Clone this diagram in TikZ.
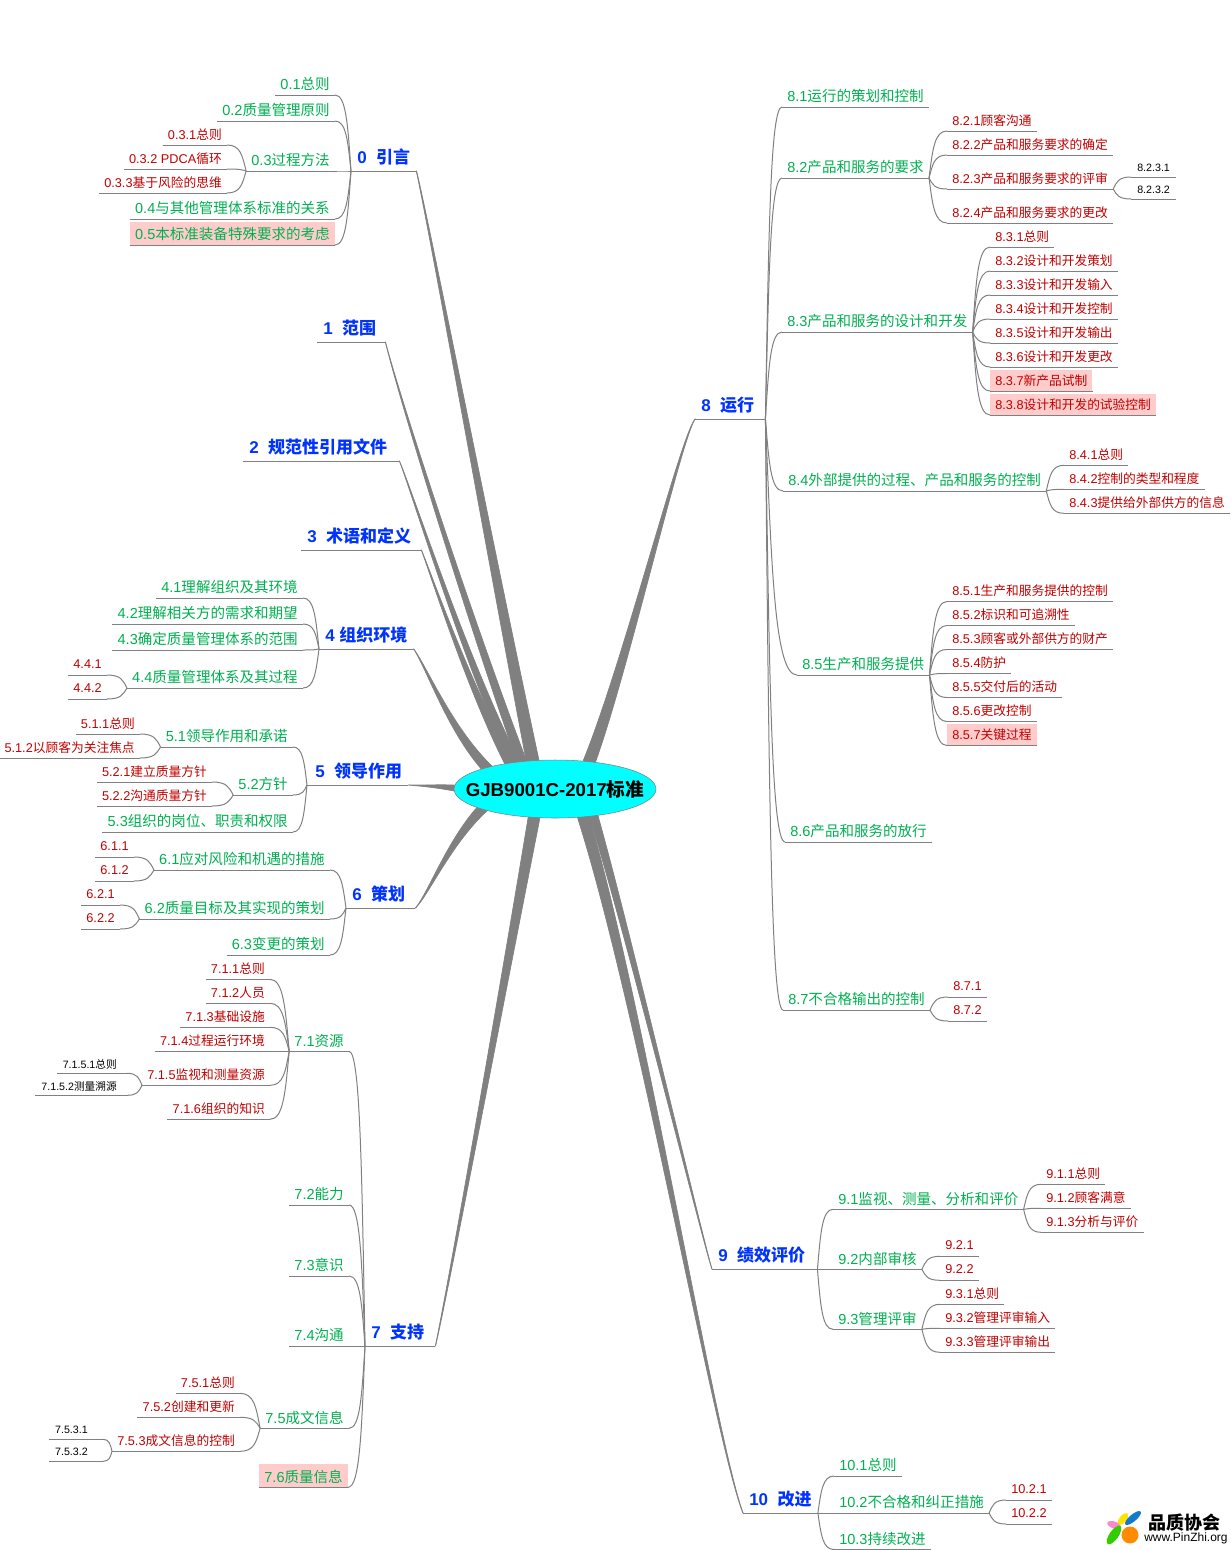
\documentclass[tikz,border=0pt]{standalone}
\usepackage{fontspec}
\setmainfont{Liberation Sans}
\newfontfamily\cjk{Noto Sans CJK SC}
\usetikzlibrary{shapes.geometric, calc, backgrounds}
\definecolor{secgreen}{HTML}{00B050}
\definecolor{subred}{HTML}{C00000}
\definecolor{topicblue}{HTML}{0033FF}
\definecolor{hotpink}{HTML}{FFCCCC}
\definecolor{linegray}{HTML}{808080}
\definecolor{rootcyan}{HTML}{00FFFF}
\newcommand{\zh}[1]{{\cjk #1}}
\newcommand{\limb}[5]{\path[trunk] ($(#1)+0.03*(#5)$) .. controls ($(#2)+0.12*(#5)$) and ($(#3)+0.6*(#5)$) .. ($(root.center)!0.92!(root.#4)+(#5)$) -- ($(root.center)!0.92!(root.#4)-(#5)$) .. controls ($(#3)-0.6*(#5)$) and ($(#2)-0.12*(#5)$) .. ($(#1)-0.03*(#5)$) -- cycle;}
\tikzset{
  ruled/.style={append after command={(\tikzlastnode.south west) edge[draw=linegray, line width=0.75pt] (\tikzlastnode.south east)}},
  toleft/.style={anchor=south east},
  toright/.style={anchor=south west},
  topicnode/.style={ruled, inner ysep=0pt, inner xsep=4.5pt, minimum height=19.5pt, text height=10pt, text depth=1.8pt, text=topicblue, font=\fontsize{12.75}{14}\selectfont\bfseries},
  secnode/.style={ruled, inner ysep=0pt, inner xsep=3.75pt, minimum height=17.25pt, text height=10.5pt, text depth=0.6pt, text=secgreen, font=\fontsize{10.9}{13}\selectfont},
  subnode/.style={ruled, inner ysep=0pt, inner xsep=3.75pt, minimum height=15.75pt, text=subred, font=\fontsize{9.55}{11}\selectfont},
  tinynode/.style={ruled, inner ysep=0pt, inner xsep=4.5pt, minimum height=13.5pt, text=black, font=\fontsize{8}{9}\selectfont},
  hot/.style={fill=hotpink},
  rootnode/.style={ellipse, draw=linegray, fill=rootcyan, minimum width=151.5pt, minimum height=43.5pt, inner xsep=-13.5pt, inner ysep=0pt, font=\fontsize{14}{16}\selectfont\bfseries},
  twig/.style={draw=linegray, line width=0.75pt, to path={let \p1=(\tikztostart), \p2=(\tikztotarget) in .. controls ({\x1+0.7*(\x2-\x1)},\y1) and ({\x1+0.8*(\x2-\x1)},{\y1+0.4*(\y2-\y1)}) .. (\tikztotarget)}},
  trunk/.style={fill=linegray, draw=linegray, line width=0.5pt},
  logotext/.style={inner sep=0pt, text=black},
}
\begin{document}
\begin{tikzpicture}[x=0.75pt, y=-0.75pt]
  \useasboundingbox (0,0) rectangle (1231,1550);

  \node[rootnode] (root) at (555,789) {GJB9001C-2017\zh{标准}};

  %% 0 left
  \node[topicnode, toright] (n0) at (351,171) {0\ \ \zh{引言}};
  \node[secnode, toleft] (n01) at (335,95) {0.1\zh{总则}};
  \node[secnode, toleft] (n02) at (335,121) {0.2\zh{质量管理原则}};
  \node[secnode, toleft] (n03) at (335,171) {0.3\zh{过程方法}};
  \node[secnode, toleft] (n04) at (335,219) {0.4\zh{与其他管理体系标准的关系}};
  \node[secnode, toleft, hot] (n05) at (335,245) {0.5\zh{本标准装备特殊要求的考虑}};
  \node[subnode, toleft] (n031) at (227,145) {0.3.1\zh{总则}};
  \node[subnode, toleft] (n032) at (227,169) {0.3.2 PDCA\zh{循环}};
  \node[subnode, toleft] (n033) at (227,193) {0.3.3\zh{基于风险的思维}};

  \draw[twig] (n01.south east) to (n0.south west);
  \draw[twig] (n02.south east) to (n0.south west);
  \draw[twig] (n03.south east) to (n0.south west);
  \draw[twig] (n04.south east) to (n0.south west);
  \draw[twig] (n05.south east) to (n0.south west);
  \draw[twig] (n031.south east) to (n03.south west);
  \draw[twig] (n032.south east) to (n03.south west);
  \draw[twig] (n033.south east) to (n03.south west);

  %% 1 to 3 have no children
  \node[topicnode, toright] (n1) at (317,342) {1\ \ \zh{范围}\kern2.25pt};
  \node[topicnode, toright] (n2) at (243,461) {2\ \ \zh{规范性引用文件}\kern4.5pt};
  \node[topicnode, toright] (n3) at (301,550) {3\ \ \zh{术语和定义}\kern3pt};

  %% 4 left
  \node[topicnode, toright] (n4) at (319,649) {4 \zh{组织环境}};
  \node[secnode, toleft] (n41) at (303,598) {4.1\zh{理解组织及其环境}};
  \node[secnode, toleft] (n42) at (303,624) {4.2\zh{理解相关方的需求和期望}};
  \node[secnode, toleft] (n43) at (303,650) {4.3\zh{确定质量管理体系的范围}};
  \node[secnode, toleft] (n44) at (303,688) {4.4\zh{质量管理体系及其过程}};
  \node[subnode, toleft] (n441) at (107,675) {4.4.1};
  \node[subnode, toleft] (n442) at (107,699) {4.4.2};

  \draw[twig] (n41.south east) to (n4.south west);
  \draw[twig] (n42.south east) to (n4.south west);
  \draw[twig] (n43.south east) to (n4.south west);
  \draw[twig] (n44.south east) to (n4.south west);
  \draw[twig] (n441.south east) to (n44.south west);
  \draw[twig] (n442.south east) to (n44.south west);

  %% 5 left
  \node[topicnode, toright] (n5) at (307,785) {\hspace{1.5pt}5\ \ \zh{领导作用}};
  \node[secnode, toleft] (n51) at (293,747) {5.1\zh{领导作用和承诺}};
  \node[secnode, toleft] (n52) at (293,795) {5.2\zh{方针}};
  \node[secnode, toleft] (n53) at (293,832) {5.3\zh{组织的岗位、职责和权限}};
  \node[subnode, toleft] (n511) at (140,734) {5.1.1\zh{总则}};
  \node[subnode, toleft] (n512) at (140,758) {5.1.2\zh{以顾客为关注焦点}};
  \node[subnode, toleft] (n521) at (212,782) {5.2.1\zh{建立质量方针}};
  \node[subnode, toleft] (n522) at (212,806) {5.2.2\zh{沟通质量方针}};

  \draw[twig] (n51.south east) to (n5.south west);
  \draw[twig] (n52.south east) to (n5.south west);
  \draw[twig] (n53.south east) to (n5.south west);
  \draw[twig] (n511.south east) to (n51.south west);
  \draw[twig] (n512.south east) to (n51.south west);
  \draw[twig] (n521.south east) to (n52.south west);
  \draw[twig] (n522.south east) to (n52.south west);

  %% 6 left
  \node[topicnode, toright] (n6) at (346,908) {6\ \ \zh{策划}\kern3pt};
  \node[secnode, toleft] (n61) at (330,870) {6.1\zh{应对风险和机遇的措施}};
  \node[secnode, toleft] (n62) at (330,919) {6.2\zh{质量目标及其实现的策划}};
  \node[secnode, toleft] (n63) at (330,955) {6.3\zh{变更的策划}};
  \node[subnode, toleft] (n611) at (134,857) {6.1.1};
  \node[subnode, toleft] (n612) at (134,881) {6.1.2};
  \node[subnode, toleft] (n621) at (120,905) {6.2.1};
  \node[subnode, toleft] (n622) at (120,929) {6.2.2};

  \draw[twig] (n61.south east) to (n6.south west);
  \draw[twig] (n62.south east) to (n6.south west);
  \draw[twig] (n63.south east) to (n6.south west);
  \draw[twig] (n611.south east) to (n61.south west);
  \draw[twig] (n612.south east) to (n61.south west);
  \draw[twig] (n621.south east) to (n62.south west);
  \draw[twig] (n622.south east) to (n62.south west);

  %% 7 left
  \node[topicnode, toright] (n7) at (365,1346) {7\ \ \zh{支持}\kern3.75pt};
  \node[secnode, toleft] (n71) at (349,1051.3) {7.1\zh{资源}};
  \node[secnode, toleft] (n72) at (349,1205) {7.2\zh{能力}};
  \node[secnode, toleft] (n73) at (349,1276) {7.3\zh{意识}};
  \node[secnode, toleft] (n74) at (349,1346) {7.4\zh{沟通}};
  \node[secnode, toleft] (n75) at (349,1428.3) {7.5\zh{成文信息}};
  \node[secnode, toleft, hot] (n76) at (348,1487.3) {7.6\zh{质量信息}};
  \node[subnode, toleft] (n711) at (270,979.3) {7.1.1\zh{总则}};
  \node[subnode, toleft] (n712) at (270,1003.3) {7.1.2\zh{人员}};
  \node[subnode, toleft] (n713) at (270,1027.3) {7.1.3\zh{基础设施}};
  \node[subnode, toleft] (n714) at (270,1051.3) {7.1.4\zh{过程运行环境}};
  \node[subnode, toleft] (n715) at (270,1085.3) {7.1.5\zh{监视和测量资源}};
  \node[subnode, toleft] (n716) at (270,1119.3) {7.1.6\zh{组织的知识}};
  \node[tinynode, toleft] (n7151) at (127,1073.3) {7.1.5.1\zh{总则}\kern3pt};
  \node[tinynode, toleft] (n7152) at (127,1095.3) {7.1.5.2\zh{测量溯源}\kern3pt};
  \node[subnode, toleft] (n751) at (240,1393.3) {7.5.1\zh{总则}};
  \node[subnode, toleft] (n752) at (240,1417.3) {7.5.2\zh{创建和更新}};
  \node[subnode, toleft] (n753) at (240,1451.3) {7.5.3\zh{成文信息的控制}};
  \node[tinynode, toleft] (n7531) at (103,1439.3) {7.5.3.1\kern6.75pt};
  \node[tinynode, toleft] (n7532) at (103,1461.3) {7.5.3.2\kern6.75pt};

  \draw[twig] (n71.south east) to (n7.south west);
  \draw[twig] (n72.south east) to (n7.south west);
  \draw[twig] (n73.south east) to (n7.south west);
  \draw[twig] (n74.south east) to (n7.south west);
  \draw[twig] (n75.south east) to (n7.south west);
  \draw[twig] (n76.south east) to (n7.south west);
  \draw[twig] (n711.south east) to (n71.south west);
  \draw[twig] (n712.south east) to (n71.south west);
  \draw[twig] (n713.south east) to (n71.south west);
  \draw[twig] (n714.south east) to (n71.south west);
  \draw[twig] (n715.south east) to (n71.south west);
  \draw[twig] (n716.south east) to (n71.south west);
  \draw[twig] (n7151.south east) to (n715.south west);
  \draw[twig] (n7152.south east) to (n715.south west);
  \draw[twig] (n751.south east) to (n75.south west);
  \draw[twig] (n752.south east) to (n75.south west);
  \draw[twig] (n753.south east) to (n75.south west);
  \draw[twig] (n7531.south east) to (n753.south west);
  \draw[twig] (n7532.south east) to (n753.south west);

  %% 8 right
  \node[topicnode, toright] (n8) at (695,419) {8\ \ \zh{运行}\kern3.75pt};
  \node[secnode, toright] (n81) at (782,107) {8.1\zh{运行的策划和控制}};
  \node[secnode, toright] (n82) at (782,178) {8.2\zh{产品和服务的要求}};
  \node[secnode, toright] (n83) at (782,332) {8.3\zh{产品和服务的设计和开发}};
  \node[secnode, toright] (n84) at (783,491) {8.4\zh{外部提供的过程、产品和服务的控制}};
  \node[secnode, toright] (n85) at (797,675) {8.5\zh{生产和服务提供}};
  \node[secnode, toright] (n86) at (785,842) {8.6\zh{产品和服务的放行}};
  \node[secnode, toright] (n87) at (783,1010) {8.7\zh{不合格输出的控制}};

  \node[subnode, toright] (n821) at (947,131) {8.2.1\zh{顾客沟通}};
  \node[subnode, toright] (n822) at (947,155) {8.2.2\zh{产品和服务要求的确定}};
  \node[subnode, toright] (n823) at (947,189) {8.2.3\zh{产品和服务要求的评审}};
  \node[subnode, toright] (n824) at (947,223) {8.2.4\zh{产品和服务要求的更改}};
  \node[tinynode, toright] (n8231) at (1131,177) {8.2.3.1};
  \node[tinynode, toright] (n8232) at (1131,199) {8.2.3.2};

  \node[subnode, toright] (n831) at (990,247) {8.3.1\zh{总则}};
  \node[subnode, toright] (n832) at (990,271) {8.3.2\zh{设计和开发策划}};
  \node[subnode, toright] (n833) at (990,295) {8.3.3\zh{设计和开发输入}};
  \node[subnode, toright] (n834) at (990,319) {8.3.4\zh{设计和开发控制}};
  \node[subnode, toright] (n835) at (990,343) {8.3.5\zh{设计和开发输出}};
  \node[subnode, toright] (n836) at (990,367) {8.3.6\zh{设计和开发更改}};
  \node[subnode, toright, hot] (n837) at (990,391) {8.3.7\zh{新产品试制}};
  \node[subnode, toright, hot] (n838) at (990,415) {8.3.8\zh{设计和开发的试验控制}};

  \node[subnode, toright] (n841) at (1064,465.3) {8.4.1\zh{总则}};
  \node[subnode, toright] (n842) at (1064,489.3) {8.4.2\zh{控制的类型和程度}};
  \node[subnode, toright] (n843) at (1064,513.3) {8.4.3\zh{提供给外部供方的信息}};

  \node[subnode, toright] (n851) at (947,601.5) {8.5.1\zh{生产和服务提供的控制}};
  \node[subnode, toright] (n852) at (947,625.5) {8.5.2\zh{标识和可追溯性}};
  \node[subnode, toright] (n853) at (947,649.5) {8.5.3\zh{顾客或外部供方的财产}};
  \node[subnode, toright] (n854) at (947,673.5) {8.5.4\zh{防护}};
  \node[subnode, toright] (n855) at (947,697.5) {8.5.5\zh{交付后的活动}};
  \node[subnode, toright] (n856) at (947,721.5) {8.5.6\zh{更改控制}};
  \node[subnode, toright, hot] (n857) at (947,745.5) {8.5.7\zh{关键过程}};

  \node[subnode, toright] (n871) at (948,997) {8.7.1};
  \node[subnode, toright] (n872) at (948,1021) {8.7.2};

  \draw[twig] (n81.south west) to (n8.south east);
  \draw[twig] (n82.south west) to (n8.south east);
  \draw[twig] (n83.south west) to (n8.south east);
  \draw[twig] (n84.south west) to (n8.south east);
  \draw[twig] (n85.south west) to (n8.south east);
  \draw[twig] (n86.south west) to (n8.south east);
  \draw[twig] (n87.south west) to (n8.south east);
  \draw[twig] (n821.south west) to (n82.south east);
  \draw[twig] (n822.south west) to (n82.south east);
  \draw[twig] (n823.south west) to (n82.south east);
  \draw[twig] (n824.south west) to (n82.south east);
  \draw[twig] (n8231.south west) to (n823.south east);
  \draw[twig] (n8232.south west) to (n823.south east);
  \draw[twig] (n831.south west) to (n83.south east);
  \draw[twig] (n832.south west) to (n83.south east);
  \draw[twig] (n833.south west) to (n83.south east);
  \draw[twig] (n834.south west) to (n83.south east);
  \draw[twig] (n835.south west) to (n83.south east);
  \draw[twig] (n836.south west) to (n83.south east);
  \draw[twig] (n837.south west) to (n83.south east);
  \draw[twig] (n838.south west) to (n83.south east);
  \draw[twig] (n841.south west) to (n84.south east);
  \draw[twig] (n842.south west) to (n84.south east);
  \draw[twig] (n843.south west) to (n84.south east);
  \draw[twig] (n851.south west) to (n85.south east);
  \draw[twig] (n852.south west) to (n85.south east);
  \draw[twig] (n853.south west) to (n85.south east);
  \draw[twig] (n854.south west) to (n85.south east);
  \draw[twig] (n855.south west) to (n85.south east);
  \draw[twig] (n856.south west) to (n85.south east);
  \draw[twig] (n857.south west) to (n85.south east);
  \draw[twig] (n871.south west) to (n87.south east);
  \draw[twig] (n872.south west) to (n87.south east);

  %% 9 right
  \node[topicnode, toright] (n9) at (712,1269.3) {9\ \ \zh{绩效评价}\kern4.5pt};
  \node[secnode, toright] (n91) at (833,1209.3) {9.1\zh{监视、测量、分析和评价}};
  \node[secnode, toright] (n92) at (833,1269.3) {9.2\zh{内部审核}};
  \node[secnode, toright] (n93) at (833,1329.3) {9.3\zh{管理评审}};
  \node[subnode, toright] (n911) at (1041,1184.3) {9.1.1\zh{总则}};
  \node[subnode, toright] (n912) at (1041,1208.3) {9.1.2\zh{顾客满意}};
  \node[subnode, toright] (n913) at (1041,1232.3) {9.1.3\zh{分析与评价}};
  \node[subnode, toright] (n921) at (940,1256.3) {9.2.1};
  \node[subnode, toright] (n922) at (940,1280.3) {9.2.2};
  \node[subnode, toright] (n931) at (940,1304.3) {9.3.1\zh{总则}};
  \node[subnode, toright] (n932) at (940,1328.3) {9.3.2\zh{管理评审输入}};
  \node[subnode, toright] (n933) at (940,1352.3) {9.3.3\zh{管理评审输出}};

  \draw[twig] (n91.south west) to (n9.south east);
  \draw[twig] (n92.south west) to (n9.south east);
  \draw[twig] (n93.south west) to (n9.south east);
  \draw[twig] (n911.south west) to (n91.south east);
  \draw[twig] (n912.south west) to (n91.south east);
  \draw[twig] (n913.south west) to (n91.south east);
  \draw[twig] (n921.south west) to (n92.south east);
  \draw[twig] (n922.south west) to (n92.south east);
  \draw[twig] (n931.south west) to (n93.south east);
  \draw[twig] (n932.south west) to (n93.south east);
  \draw[twig] (n933.south west) to (n93.south east);

  %% 10 right
  \node[topicnode, toright] (n10) at (743,1513) {10\ \ \zh{改进}};
  \node[secnode, toright] (n101) at (834,1476) {10.1\zh{总则}};
  \node[secnode, toright] (n102) at (834,1513) {10.2\zh{不合格和纠正措施}};
  \node[secnode, toright] (n103) at (834,1549.5) {10.3\zh{持续改进}};
  \node[subnode, toright] (n1021) at (1006,1500) {10.2.1};
  \node[subnode, toright] (n1022) at (1006,1524) {10.2.2};

  \draw[twig] (n101.south west) to (n10.south east);
  \draw[twig] (n102.south west) to (n10.south east);
  \draw[twig] (n103.south west) to (n10.south east);
  \draw[twig] (n1021.south west) to (n102.south east);
  \draw[twig] (n1022.south west) to (n102.south east);

  %% limbs out of the root
  \begin{scope}[on background layer]
    \limb{n0.south east}{430,230}{492,560}{130}{6.5,0}
    \limb{n1.south east}{400,400}{470,620}{142}{5,0}
    \limb{n2.south east}{415,500}{465,660}{148}{5,0}
    \limb{n3.south east}{433,580}{470,690}{152}{5,0}
    \limb{n4.south east}{428,670}{450,730}{164}{4.5,-2.5}
    \limb{n5.south east}{425,786}{440,786}{180}{0,3.5}
    \limb{n6.south east}{428,895}{450,840}{194}{4,3}
    \limb{n7.south east}{450,1280}{510,950}{232}{6,0}
    \limb{n8.south west}{680,440}{625,670}{37}{6.5,0}
    \limb{n9.south west}{700,1230}{625,920}{327}{4.5,0}
    \limb{n10.south west}{715,1440}{640,1000}{317}{6,0}
  \end{scope}

  %% logo
  \fill[yellow!85!orange, rotate around={50:(1123,1519)}] (1123,1519) ellipse [x radius=7, y radius=3.5];
  \fill[cyan!60!blue, rotate around={40:(1133,1518)}] (1133,1518) ellipse [x radius=10, y radius=3.5];
  \fill[magenta!45, rotate around={-20:(1114,1525)}] (1114,1525) ellipse [x radius=7, y radius=3.5];
  \fill[green!60!olive, rotate around={55:(1114,1535)}] (1114,1535) ellipse [x radius=11, y radius=4.5];
  \fill[orange!90!yellow] (1130,1535) circle [radius=8.5];
  \node[logotext, anchor=west] (logoname) at (1148,1523) {\fontsize{13.5}{15}\selectfont\cjk\bfseries 品质协会};
  \node[logotext, anchor=west] (logoweb) at (1144,1538) {\fontsize{9}{11}\selectfont www.PinZhi.org};
\end{tikzpicture}
\end{document}
